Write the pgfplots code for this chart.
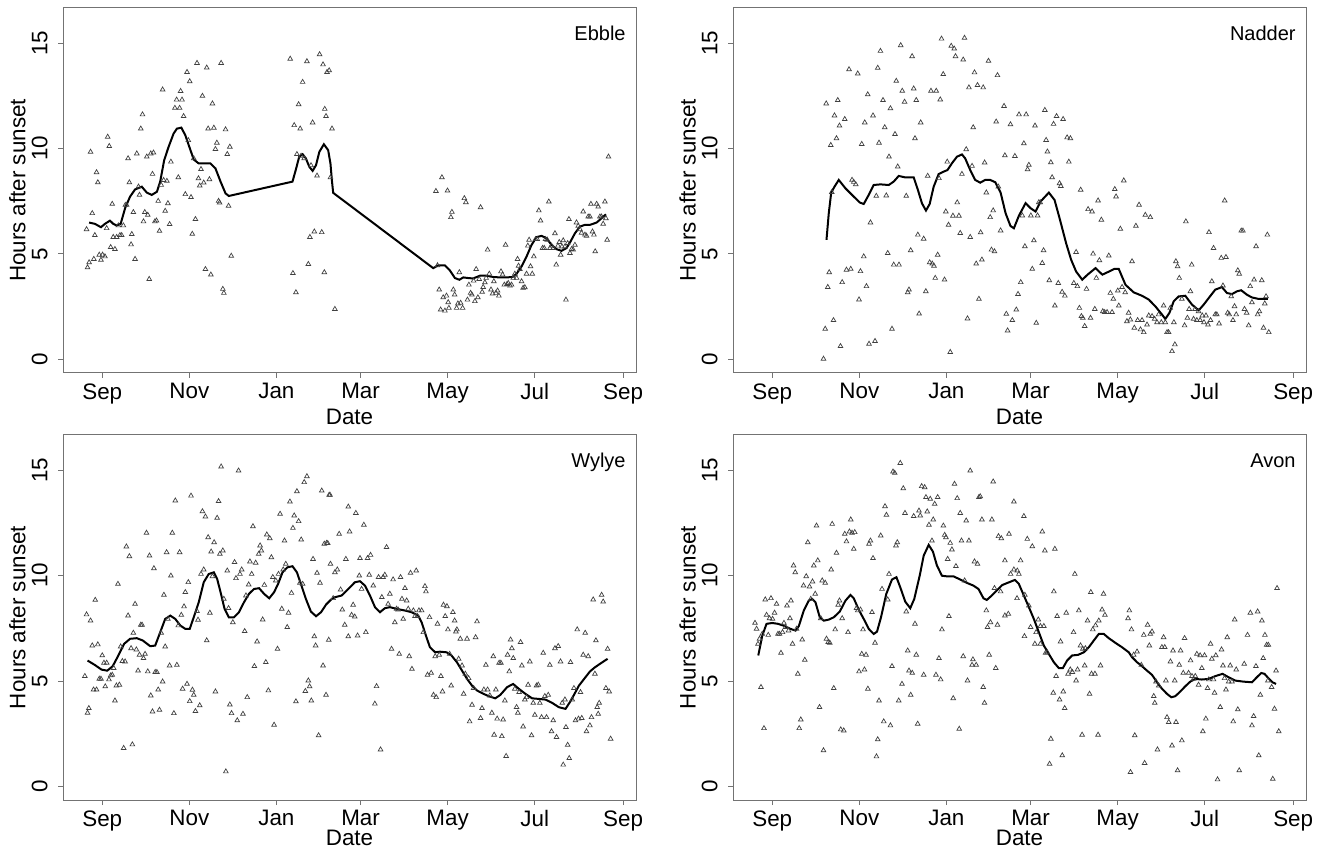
\documentclass[border=0pt]{standalone}
\usepackage{fontspec}
\setmainfont{Liberation Sans}
\usepackage{pgfplots}
\pgfplotsset{compat=1.18}
\pgfplotsset{
 panel/.style={
  scale only axis, width=286.5pt, height=182.5pt,
  xmin=-27.5, xmax=374, ymin=-0.64, ymax=16.66,
  xtick={0,61,122,181,242,303,365}, xticklabels={Sep,Nov,Jan,Mar,May,Jul,Sep},
  ytick={0,5,10,15}, yticklabels={0,5,10,15},
  tick align=outside, xtick pos=bottom, ytick pos=left,
  major tick length=2.5pt,
  axis line style={black!55, line width=0.5pt},
  every tick/.style={black!55, line width=0.5pt},
  tick label style={font=\fontsize{11.2}{13}\selectfont, black},
  xticklabel style={anchor=north, inner sep=0pt},
  yticklabel style={rotate=90, anchor=south, inner sep=0pt},
  xticklabel shift=2.5pt, yticklabel shift=5pt,
  /pgf/number format/assume math mode=true,
  label style={font=\fontsize{11.2}{13}\selectfont},
  xlabel={Date}, ylabel={Hours after sunset},
  xlabel style={at={(axis description cs:0.5,-0.12)}, anchor=center, inner sep=0pt},
  ylabel style={at={(axis description cs:-0.0794,0.5)}, anchor=center, inner sep=0pt},
 },
 lowpanel/.style={xlabel style={at={(axis description cs:0.5,-0.103)}}},
 pts/.style={only marks, mark=triangle, mark size=1.35pt, mark options={draw=black!75, line width=0.35pt, fill=none}},
 lin/.style={no marks, black, line width=1pt},
}
\newcommand{\paneltitle}[1]{\node[anchor=north east, inner sep=0pt, font=\fontsize{10}{12}\selectfont] at (rel axis cs:0.9825,0.951) {#1};}
\begin{document}
\begin{tikzpicture}
\useasboundingbox (0,0) rectangle (662.5pt,425pt);
% ---------------- Ebble ----------------
\begin{axis}[panel, at={(31.5pt,238.5pt)}, anchor=south west]
\addplot[pts] coordinates {
(-11,6.17)(-10.3,4.36)(-9.2,4.6)(-8.2,9.84)(-7,6.93)(-5.9,4.76)(-5.2,5.89)(-4,8.87)(-3.1,8.39)(-2.1,4.96)(-0.9,4.72)(0.2,4.96)(1.9,4.88)(3.1,6.22)(3.8,10.55)(4.9,10.11)(5.9,5.32)(7,7.37)(7.7,5.8)(8.9,5.23)(10.1,5.8)(11.3,6.35)(12.4,5.89)(13.6,5.89)(14.8,6.35)(16.2,7.32)(17.1,7.32)(18.1,9.53)(19,8.39)(20.2,5.45)(20.7,5.94)(21.8,6.98)(23,4.76)(24.2,9.76)(25.4,8.19)(26.1,7.8)(27,10.94)(28.2,11.61)(28.9,6.54)(29.8,6.98)(31.2,9.61)(31.9,6.85)(32.9,3.81)(34,9.76)(35.2,8.79)(35.9,9.8)(36.9,6.54)(38,6.58)(39.2,7.51)(40.1,6.09)(41.3,8.27)(42.3,12.79)(43,8.5)(44.1,7.04)(45.3,8.46)(46,7.4)(47.2,6.41)(48.1,9.37)(50.9,11.92)(52.1,12.31)(53.3,8.63)(54.2,11.92)(54.9,12.72)(55.9,12.31)(57,11.53)(58.2,7.83)(59.4,13.62)(60.3,10.39)(61.3,13.18)(62.2,7.69)(63.1,5.95)(64.1,9.53)(65.3,6.65)(66.4,14.05)(67.4,8.58)(68.3,8.24)(69.2,9.02)(70.2,12.49)(71.1,8.38)(72.3,4.28)(73.2,13.83)(74.2,10.94)(75.1,8.54)(76.1,4.02)(77.2,12.13)(78.2,10.98)(79.3,9.97)(80.3,10.27)(81.5,7.51)(82.2,7.43)(83.3,14.05)(84.5,3.34)(85.2,3.15)(86.4,10.9)(87.6,9.73)(88.5,7.28)(89.4,10.08)(90.4,4.91)
(131.7,14.25)(133.6,4.09)(134.5,11.1)(135.7,3.18)(136.4,9.73)(137.6,12.09)(138.7,10.94)(140.4,13.15)(141.5,9.53)(143.4,14.13)(144.4,4.52)(145.5,5.8)(147.4,11.23)(148.6,6.06)(150.5,8.71)(152.3,14.46)(153.8,6.03)(155.6,4.13)(154.7,13.98)(157.5,13.62)(156.8,11.53)(159,13.7)(155.9,11.87)(161,10.94)(163,2.39)(159.9,8.63)(139.3,9.65)(146.3,9.2)
(233.8,7.98)(234.9,4.46)(236.1,3.31)(237.1,2.36)(238,8.63)(238.9,2.94)(240.1,2.31)(241.2,3.02)(241.9,8)(242.4,2.71)(242.9,2.44)(244.3,6.74)(245,6.99)(246,3.31)(246.9,3.07)(248.3,2.44)(249.2,2.65)(250.2,4.13)(251.1,2.68)(252.5,2.44)(253.7,7.64)(254.8,7.45)(255.9,2.83)(256.9,3.54)(258.1,3.15)(259,3.07)(260.2,3.73)(261.1,2.76)(262,4.28)(263.2,2.94)(264.1,3.81)(265.1,7.21)(266.2,3.2)(266.9,3.43)(268.1,3.65)(269,3.86)(270,5.2)(271.2,4.06)(272.4,3.31)(273.5,3.12)(274.4,3.7)(275.8,3.15)(277,3.26)(277.9,3.02)(279.4,4.17)(280.5,4.02)(281.7,3.54)(282.6,5.43)(283.6,3.57)(284.5,3.62)(285.7,3.5)(286.8,3.54)(288,3.86)(289.1,4.06)(290.3,3.86)(291,4.76)(291.7,4.44)(292.6,4.28)(293.8,3.7)(294.9,3.39)(296.1,3.42)(297.3,4.06)(298.2,5.39)(299.1,5.67)(300.1,4.41)(301.3,4.06)(302.4,4.88)(303.6,5.7)(304.8,5.7)(305.9,7.06)(307.1,6.58)(308.5,5.28)(309.7,5.28)(310.6,5.7)(311.8,5.67)(312.9,7.48)(313.7,5.28)(314.8,5.39)(316,5.28)(317.2,5.98)(318.1,4.49)(319.3,5.39)(320.2,5.56)(321.2,4.96)(322.1,5.35)(323,5.64)(324.2,5.35)(324.9,2.83)(326.1,5.51)(327,6.65)(327.7,5.04)(328.9,5.23)(330,5.2)(331.2,5.43)(332.3,6.49)(333.5,6.33)(334.7,6.17)(335.8,6)(337,7.01)(338.2,5.91)(339.3,5.86)(340.5,6.77)(341.7,6.77)(342.4,7.37)(343.5,6.06)(344.5,5.91)(345.4,5.12)(346.4,7.37)(347.5,7.24)(348.7,6.77)(349.8,6.77)(351,6.43)(352.2,7.48)(352.9,6.69)(353.8,5.67)(354.7,9.61)
};
\addplot[lin] coordinates {
(-9.2,6.49)(-5.2,6.43)(-0.9,6.27)(1.9,6.43)(5.4,6.58)(7.7,6.43)(10.1,6.35)(12.9,6.43)(16,7.17)(19.5,7.72)(23,8.06)(27.7,8.19)(31.2,7.91)(34.7,7.8)(38.3,7.95)(40.6,8.43)(43.4,9.45)(46.5,10.08)(50,10.71)(52.3,10.94)(55.4,10.99)(58.2,10.63)(61,10.08)(64.1,9.48)(67.6,9.29)(71.1,9.29)(75.8,9.29)(79.3,9.06)(82.9,8.43)(86.4,7.87)(88.7,7.75)(133.3,8.43)(135.7,9.01)(138,9.61)(140.4,9.73)(142.7,9.53)(145.1,9.13)(147.4,8.94)(149.8,9.21)(152.1,9.84)(155.3,10.2)(158.3,9.92)(159.9,9.29)(160.9,8.5)(161.8,7.9)(231.9,4.33)(235.4,4.46)(240.1,4.46)(243.6,4.22)(247.1,3.86)(250.2,3.78)(253,3.89)(256.4,3.86)(259.9,3.84)(264.6,3.97)(269.2,3.97)(273.9,3.91)(278.6,3.89)(283.3,3.89)(287.5,3.91)(290.3,4.06)(293.8,4.41)(297.3,4.88)(300.8,5.43)(304.3,5.8)(307.8,5.86)(311.3,5.75)(314.8,5.43)(318.3,5.23)(321.8,5.15)(325.3,5.28)(328.1,5.59)(331.2,5.98)(334.7,6.3)(338.2,6.38)(341.7,6.38)(346.4,6.49)(349.8,6.69)(352.9,6.88)
};
\paneltitle{Ebble}
\end{axis}
% ---------------- Nadder ----------------
\begin{axis}[panel, at={(366.5pt,238.5pt)}, anchor=south west]
\addplot[pts] coordinates {
(35.9,0.03)(37.1,1.45)(37.8,12.13)(38.9,3.43)(39.9,4.13)(41,10.16)(41.7,7.93)(42.9,1.86)(43.6,11.56)(45,10.48)(45.9,12.29)(47.1,11.08)(47.8,0.63)(49,3.66)(50.8,11.39)(52,4.25)(53.8,13.75)(55,4.29)(55.9,8.51)(57.1,8.41)(58.5,8.3)(59.9,13.55)(60.8,2.84)(61.8,4.18)(62.7,10.21)(64.1,4.88)(64.8,11.23)(66,3.47)(66.9,12.56)(67.8,0.74)(68.8,6.49)(70.6,11.56)(72,0.87)(72.9,7.75)(73.9,13.82)(74.8,10.27)(75.8,14.62)(77.6,12.29)(78.8,11)(79.9,7.77)(80.9,5.04)(81.8,9.61)(82.8,11.9)(83.9,1.45)(85.1,4.49)(86,10.68)(86.9,13.2)(87.9,9.14)(88.8,4.49)(90,14.89)(91.1,12.73)(92.7,12.21)(93.9,7.75)(94.9,3.18)(95.8,3.31)(97,5.17)(98,14.37)(99.1,12.84)(100,10.48)(100.9,12.29)(102,5.91)(102.9,2.17)(104,11.23)(106.1,5.72)(107.6,3.23)(108.9,8.7)(110.3,4.6)(111.2,12.73)(112.1,4.54)(113.3,4.44)(114.2,3.86)(114.9,12.73)(115.9,4.96)(116.8,8.59)(117.7,12.32)(118.6,15.2)(119.8,13.52)(120.7,3.78)(121.6,7.01)(122.6,9.37)(123.5,6.38)(124.7,0.35)(125.4,14.86)(126.6,6.81)(127.5,14.73)(128.4,14.37)(129.6,7.44)(130.8,6.81)(131.7,5.99)(132.9,8.79)(133.8,14.21)(134.7,15.24)(135.9,9.96)(136.8,1.94)(137.8,12.89)(138.7,5.8)(140,9.17)(140.8,11)(141.7,13.6)(142.9,4.54)(143.8,13)(144.8,2.87)(146,6.02)(146.9,4.73)(147.8,12.89)(148.8,9.33)(150,7.91)(151.5,14.15)(152.7,6.74)(153.6,5.2)(154.8,7.06)(155.7,5.12)(156.9,11.27)(157.8,13.47)
(158.4,8.19)(160,6.11)(162.4,12.01)(163,9.67)(164,2.16)(164.9,1.37)(166.9,11.14)(168.2,1.86)(170,9.64)(171,2.36)(172.2,3.1)(172.9,11.61)(174.1,3.66)(175.2,6.82)(176.3,10.24)(177,5.36)(177.9,11.61)(178.9,9.01)(179.8,9.22)(181.2,6.82)(182.2,4.29)(183.3,5.64)(184.1,11.08)(185,1.73)(185.9,6.82)(186.8,7.45)(187.8,7.44)(189.2,4.57)(190.1,5.17)(191,11.82)(191.9,10.4)(192.8,9.85)(194.1,3.75)(195.2,9.34)(196.1,8.63)(197.1,11.16)(198,2.55)(199.2,11.53)(200.4,3.62)(201.3,8.35)(202.2,8.22)(203.1,3.2)(203.8,11.39)(205,3.02)(206.6,10.52)(207.8,9.37)(208.9,10.48)(211.3,3.62)(212.9,5.09)(213.8,3.47)(215.2,2.44)(216.1,8.04)(216.6,2.05)(217.6,1.97)(218.9,1.58)(220.2,3.34)(221.3,7.12)(223,1.97)(224.1,7.01)(224.8,5.01)(226,2.39)(227.1,3.86)(228.3,7.53)(229.2,4.7)(230.6,6.62)(231.6,2.28)(232.9,2.24)(234.6,2.24)(235.8,4.92)(236.9,3.15)(238.1,2.24)(239,2.87)(240,8.07)(240.9,7.72)(242.1,3.26)(242.8,2.55)(243.9,6.19)(245.1,3.43)(246.3,8.48)(247.3,3.18)(248.5,1.81)(249.7,2.21)(250.9,1.89)(252.1,4.65)(253.7,1.5)(254.8,6.33)(256,1.86)(257,7.33)(258,1.42)(259.1,1.86)(260.3,1.29)(261.4,6.85)(262.6,1.65)(263.8,2.08)(264.9,6.74)(266.1,2.05)(267.9,1.92)(269.6,1.76)(270.7,2.13)(272.6,1.76)(274.2,2.55)(275.4,1.76)(276.6,1.29)(277.7,1.29)(278.9,2.44)(280.1,0.39)(281.4,1.76)(282.1,0.71)(282.8,4.65)(284,4.41)(285.2,3.86)(287,2.87)(288.9,1.61)(289.8,6.54)(290.9,1.97)(292.1,2.39)(293,3.23)(293.9,4.49)(295.2,1.92)(296.3,2.39)(297.5,1.86)(298.7,2.28)(299.8,1.86)(301.3,2.08)(302.5,1.76)(303.9,2.08)(305.3,1.65)(306,6.03)(307.1,1.86)(308,3.7)(309.2,5.28)(310.4,2.13)(311.5,2.13)(313.1,1.7)(314.6,4.81)(315.8,3.5)(317,7.53)(317.9,4.85)(319.1,2.21)(320.2,2.13)(321.6,2.99)(322.8,1.86)(323.9,2.52)(325.1,2.13)(326.2,4.22)(327.2,4.06)(328.6,6.1)(329.8,6.1)(330.9,2.39)(332.4,2.21)(333.8,1.61)(334.9,3.47)(336.1,2.71)(337.6,3.78)(339,5.36)(340.1,2.13)(341.3,2.28)(343,3.75)(344.2,1.5)(345.1,2.65)(346,2.99)(346.9,5.91)(347.9,1.29)
};
\addplot[lin] coordinates {
(38,5.67)(39.6,6.93)(41.3,7.91)(43.6,8.19)(46.6,8.51)(51.3,8.11)(57.1,7.72)(61.3,7.44)(64.1,7.37)(67.6,7.8)(71.1,8.27)(75.8,8.3)(81.6,8.27)(85.1,8.43)(88.6,8.7)(93.2,8.63)(99.1,8.63)(101.9,8.07)(104.9,7.4)(107.7,7.06)(110.3,7.37)(113.1,8.19)(116.6,8.79)(120,8.9)(122.8,8.98)(125.9,9.3)(129.4,9.61)(132.9,9.72)(135.2,9.53)(138.7,8.98)(142.2,8.51)(145.7,8.38)(149.2,8.51)(152.7,8.51)(156.3,8.4)(160,7.91)(163.5,6.93)(166.9,6.33)(169.3,6.22)(172.8,6.81)(177.5,7.41)(181,7.17)(184.5,7.01)(187.9,7.48)(193.8,7.91)(197.8,7.56)(201.3,6.7)(205.9,5.51)(209.4,4.73)(212.9,4.17)(217.2,3.78)(220.9,4.02)(226.5,4.33)(231.3,4.02)(236,4.17)(239.5,4.29)(242.8,4.29)(247.5,3.54)(253.3,3.18)(259.1,3.02)(263.8,2.84)(268.4,2.52)(273.1,2.13)(275.4,1.92)(278.3,2.21)(281.3,2.76)(284.8,2.99)(289.4,3.02)(294.1,2.6)(298.8,2.33)(302.3,2.6)(305.8,2.91)(310.4,3.31)(315.1,3.43)(318.6,3.15)(322.1,3.1)(325.6,3.23)(328.6,3.28)(332.6,3.07)(336.1,2.94)(340.8,2.87)(347.2,2.87)
};
\paneltitle{Nadder}
\end{axis}
% ---------------- Wylye ----------------
\begin{axis}[panel, lowpanel, at={(31.5pt,25pt)}, anchor=south west]
\addplot[pts] coordinates {
(-12.2,5.23)(-11,8.15)(-10.3,3.49)(-9.4,3.71)(-8.2,7.86)(-7,6.68)(-6.1,4.59)(-4.9,8.84)(-4,4.59)(-3.1,6.73)(-2.1,5.1)(-0.9,5.1)(0,6.21)(1.2,5.86)(2.1,4.74)(3.1,5.86)(4.7,5.07)(5.9,5.26)(7,5.29)(8,5.61)(8.9,4.07)(9.9,4.78)(11,9.6)(12,4.82)(12.9,6.63)(14.1,5.94)(15,1.82)(16,5.92)(16.9,11.37)(18.1,8.1)(19,10.91)(20.2,6.55)(21.1,1.99)(21.8,7.28)(23,8.65)(23.9,6.49)(25.1,5.49)(26.1,6.24)(27,7.66)(27.9,7.66)(28.9,6.08)(30,6.28)(31,12.02)(31.9,5.45)(33.1,10.94)(34,4.31)(35.2,3.55)(36.2,10.34)(37.1,5.42)(38.3,5.42)(39.2,4.59)(40.1,3.63)(41.3,7.28)(42.3,4.97)(43.2,9.08)(44.1,6.63)(45.1,11.1)(46,7.94)(47.2,5.73)(48.1,9.99)(49.1,12.02)(50.2,3.47)(51.2,13.55)(52.3,5.76)(53.3,7.63)(54.2,11.1)(55.4,8.13)(56.3,4.63)(57.3,8.53)(58.2,9.21)(59.4,4.86)(60.3,9.68)(61.3,4.04)(62.2,13.78)(63.2,4.58)(64.1,4.34)(65.3,3.57)(66.4,8.31)(67.1,7.9)(68.3,3.84)(69.2,10.07)(70.2,13.04)(71.1,10.28)(72.3,12.79)(73.2,6.92)(74.2,11.81)(75.4,8.23)(76.3,11.13)(77.2,9.96)(78.4,11.57)(79.3,4.5)(80.5,12.73)(81.5,13.52)(82.4,11.02)(83.3,15.16)(84.5,11.18)(85.2,8.89)(86.6,0.71)(87.6,10.23)(88.5,8.45)(89.4,3.88)(90.6,3.47)(91.5,7.78)(92.7,10.63)(93.7,9.87)(94.6,3.13)(95.5,14.97)(96.5,10.07)(97.7,10.28)(98.6,3.44)(99.8,7.36)(100.7,9.05)(101.6,4.23)(102.6,9.57)(103.5,10.66)(104.7,10.07)(105.6,12.33)(106.6,5.7)(107.5,10.6)(108.5,6.87)(109.6,11.02)(110.6,11.42)(111.5,11.18)(112.4,7.91)(113.6,9.55)(114.6,5.89)(115.3,11.94)(116.4,4.55)(117.4,11.76)(118.5,10.86)(119.5,9.92)(120.4,2.92)(121.6,9.76)(122.8,6.52)(123.5,10.07)(124.6,12.92)(125.8,8.42)(126.8,10.28)(127.7,11.65)(128.6,10.55)(129.6,7.55)(130.5,8.23)(131.5,13.5)(132.6,9.17)(133.6,12.25)(134.5,12.84)(135.7,4.03)(136.4,13.99)(137.6,12.57)(138.5,9.65)(139.4,11.7)(140.4,9.6)(141.5,14.42)(142.3,4.52)(143.4,14.7)(144.4,5.02)(145.3,4.74)(146.5,4.07)(147.7,10.78)(148.6,7.11)(149.5,6.68)(150.5,10.12)(151.6,2.42)(152.6,9.65)(153.8,14.02)(154.7,5.73)(155.6,11.5)(156.8,4.34)(158,11.53)(158.7,6.95)(159.6,13.82)
(159,13.82)(157.2,11.54)(159.9,10.55)(163,10.15)(164.7,10.28)(161.8,8.92)(167,9.33)(166,11.97)(168.2,8.38)(169.9,7.66)(170.7,10.78)(172.4,13.26)(172.4,7.11)(173.3,12.08)(174.7,8.13)(175.8,8.61)(176.9,8.05)(177.7,12.96)(178.9,7.15)(180.1,9.99)(180.6,10.82)(181.7,9.36)(183.3,12.4)(184.7,7.31)(185.9,10.82)(187.1,10.03)(188,10.97)(189.9,9.52)(191,3.92)(192.2,4.75)(193.6,9.92)(195,1.75)(195.9,8.97)(196.8,9.92)(198,10.03)(199.2,11.34)(200.3,8.65)(201.5,9.13)(202.7,6.52)(203.8,9.81)(205,7.78)(206.2,8.42)(207.3,8.38)(208.1,6.28)(209,9.92)(210,8.89)(210.9,7.94)(212.1,9.4)(213.3,8.81)(214.4,8.42)(215.1,6.17)(216,10.12)(217,5.57)(218,8.34)(219.1,8.07)(220,10.23)(220.8,8.07)(221.9,8.34)(223.8,8.34)(225,7.31)(226.1,9.49)(226.8,9.24)(227.9,5.29)(229.3,8.02)(230.5,5.38)(232.1,4.34)(233.3,6.17)(234,4.23)(234.9,7.71)(236.1,6.24)(237.3,5.23)(238.4,4.5)(239.1,8.61)(240.3,8.07)(241.5,8.54)(242.2,7.44)(243.4,6.28)(244.5,4.78)(245.7,8.26)(246.9,7.86)(247.8,7.34)(248.5,7.44)(249.7,6.05)(250.9,7)(252.1,5.73)(253.2,4.39)(254.4,5.34)(255.6,7)(256.7,5.13)(257.4,3.08)(259.1,3.87)(260.2,4.66)(261.6,7.07)(262.6,7.82)(265.1,3.24)(266.1,3.71)(267.4,4.59)(268.8,5.76)(270,4.59)(271.6,4.31)(273,3.49)(274,6.17)(274.6,2.45)(275.8,4.59)(276.7,3.21)(278.1,5.86)(279.3,5.86)(280,2.38)(280.9,3.17)(282.1,4.07)(283,1.44)(284,6.24)(285.2,5.45)(286.1,6.96)(287,6.55)(288,6.08)(289.1,4.63)(290.3,3.76)(291.2,3.49)(292.1,4.47)(293.1,6.84)(294,5.73)(294.9,2.84)(296.1,4.12)(297.3,4.23)(298.4,4.82)(299.6,5.92)(300.8,2.42)(302,3.96)(303.1,3.39)(304.3,4.78)(305.5,4.82)(306.6,3.96)(307.8,3.28)(309,6.33)(310.1,4.28)(311.3,3.28)(312.5,4.34)(313.6,5.76)(314.8,2.61)(316,3.13)(317.2,6.55)(318.3,2.34)(319.5,6.65)(321.1,5.92)(322.3,3.96)(323,1.03)(324.2,4.12)(324.9,2.81)(326.1,1.97)(327.2,1.34)(328.1,5.89)(329.3,4.12)(330.5,4.66)(331.6,3.13)(332.8,7.44)(333.7,3.21)(335.1,4.47)(336,3.24)(337,6.24)(338.4,7.28)(339.3,2.61)(340.5,6.17)(341.7,2.89)(342.8,3.28)(344,8.86)(345.2,5.34)(345.9,6.92)(346.8,3.76)(347.5,3.44)(348.2,3.96)(349.9,9.08)(351,8.76)(352.9,4.66)(354.1,6.52)(355.2,4.5)(356.2,2.26)
};
\addplot[lin] coordinates {
(-10.3,5.97)(-5.2,5.76)(-0.5,5.54)(3.5,5.49)(7.3,5.7)(11.3,6.21)(15.3,6.76)(19.5,7)(24.2,7.03)(28.4,6.92)(33.6,6.65)(37.1,6.68)(40.6,7.31)(44.1,7.94)(47.7,8.1)(51.2,7.94)(54.7,7.63)(58.2,7.47)(61.3,7.47)(64.1,8.02)(67.6,8.73)(71.1,9.68)(74.6,10.07)(78.2,10.15)(80.5,9.84)(82.9,9.21)(85.7,8.42)(88.7,8.02)(92.3,8.02)(95.8,8.26)(99.3,8.73)(102.8,9.13)(106.3,9.36)(109.9,9.4)(113.4,9.13)(117,8.92)(120.4,9.21)(123.2,9.6)(126.3,10.15)(129.8,10.39)(133.3,10.44)(136.4,10.15)(139.2,9.6)(142.7,8.89)(146.2,8.29)(149.8,8.07)(153.3,8.26)(156.8,8.62)(160.3,8.86)(163,8.97)(167.7,9.05)(172.4,9.36)(177,9.68)(180.6,9.73)(184.1,9.52)(187.6,9.05)(191.1,8.5)(194.6,8.26)(198,8.45)(201.5,8.5)(206.2,8.42)(212.1,8.34)(216.7,8.26)(221.4,8.1)(223.8,7.78)(226.8,7.15)(229.6,6.6)(233.3,6.36)(236.6,6.39)(241.3,6.36)(244.7,6.21)(248.5,5.89)(252.1,5.49)(255.6,5.1)(259.1,4.78)(262.6,4.55)(267.2,4.39)(270.8,4.28)(275.4,4.18)(278.9,4.34)(283.7,4.71)(287.9,4.86)(291.9,4.63)(296.5,4.39)(301.2,4.18)(305.9,4.15)(310.6,4.12)(315.3,3.96)(319.9,3.76)(324.6,3.68)(327.7,4)(330.5,4.34)(334,4.78)(338,5.13)(341.7,5.45)(345.2,5.65)(348.7,5.81)(352.2,5.97)(354.1,6.05)
};
\paneltitle{Wylye}
\end{axis}
% ---------------- Avon ----------------
\begin{axis}[panel, lowpanel, at={(366.5pt,25pt)}, anchor=south west]
\addplot[pts] coordinates {
(-12.1,7.75)(-11,7.47)(-10,6.76)(-8.9,7)(-7.9,4.71)(-7,7.23)(-5.8,2.76)(-4.9,8.86)(-4,8.13)(-2.8,7.18)(-1.9,7.97)(-0.9,8.92)(0.2,7.94)(1.6,8.23)(3,8.65)(4,7.23)(5.1,7.23)(6.1,6.33)(7.2,7.31)(8.2,7.75)(9.3,7.55)(10.3,8.57)(11.4,7.39)(12.4,7.97)(13.1,8.81)(14.2,6.76)(14.9,10.47)(16.1,10.15)(17,7.47)(17.9,5.34)(18.9,2.76)(20,3.17)(21,6.96)(21.9,9.52)(22.8,6)(23.8,9.96)(24.9,11.57)(26.1,9.47)(27,8.89)(28.2,9.71)(29.1,10.47)(30.1,9.13)(31,12.36)(31.9,10.71)(33.1,3.76)(34,7.97)(35,9.76)(35.9,1.71)(37.1,9.65)(38,7)(39.2,6.84)(40.3,6.81)(41.3,10.28)(42,12.44)(43.1,4.66)(44.1,7.44)(45,11.07)(46.2,8.61)(47.1,8.81)(48,2.7)(49,7.97)(50.1,2.65)(50.8,11.97)(52,11.61)(53.1,7.31)(54.1,12.08)(55,12.65)(55.9,12.02)(57.1,11.26)(57.8,12.05)(59,8.45)(59.9,8.34)(60.8,5.45)(61.8,8.38)(62.7,6.28)(63.6,7.44)(64.6,5.54)(65.7,6.24)(67,4.63)(67.8,11.5)(68.8,11.65)(69.9,8.26)(70.6,10.82)(72,6.81)(73,1.42)(73.9,2.23)(74.8,4.07)(76,11.89)(76.9,9.36)(78.1,3.08)(79,13.28)(80,12.87)(80.9,8.86)(81.8,10.07)(82.8,2.89)(83.9,5.7)(84.6,14.92)(85.8,14.86)(86.7,11.42)(87.6,11.57)(88.6,4.07)(89.7,15.33)(90.9,4.86)(91.8,14.13)(93,12.96)(93.9,8.29)(94.9,6.44)(95.8,5.49)(97,4.34)(98.1,5.38)(99.1,12.81)(100,7.71)(100.9,6.24)(101.9,2.97)(102.8,13.07)(103.7,12.84)(104.7,14.23)(106.1,5.29)(106.8,14.18)(107.7,13.71)(108.6,13.03)(109.8,12.4)(110.7,13.63)(111.9,11.65)(112.8,12.65)(113.8,13.39)(114.7,5.29)(115.9,13.71)(116.8,6.08)(118,5.07)(118.9,7.44)(119.9,12.36)(120.8,11.92)(121.7,11.81)(122.9,10.78)(123.8,8.07)(124.7,11.54)(125.9,11.23)(126.8,4.18)(127.7,14.34)(128.7,10.44)(129.6,13.66)(131,2.73)(131.7,12.96)(132.6,11.65)(133.8,6.17)(134.8,9.76)(135.9,12.6)(136.8,5.02)(137.8,11.65)(138.7,14.97)(140,5.76)(140.6,6.02)(141.7,10.66)(142.9,5.76)(143.8,10.55)(144.8,13.71)(145.7,13.75)(146.9,12.65)(147.8,4.71)(148.7,3.96)(150,8.34)(150.8,7.55)(152,6.24)(152.9,7.78)(153.9,12.65)(154.8,14.45)(155.7,9.4)(156.6,5.61)(157.8,7.66)(158.5,11.86)
(160.5,11.76)(163,10.71)(165.9,11.97)(169.3,13.5)(176.3,12.81)(178.7,11.73)(182.2,11.38)(167,10.07)(169.3,10.28)(171.7,10.23)(174,10.71)(172.8,10.07)(160,9.24)(171.5,8.92)(177,9.08)(179.8,8.57)(163,8.1)(165.4,8.18)(176.7,7.12)(181,7.55)(184.9,7.31)(186.4,7.91)(187.9,7.6)(184,6.76)(187.9,6.76)(190.3,7.6)(189.2,12.08)(191,11.18)(191.5,6.33)(192.7,6.36)(198,11.26)(197.3,9.24)(199.6,8.07)(202,6.87)(206,8.23)(211.1,7.31)(212,10.07)(214.8,8.34)(198.9,5.23)(196.9,4.44)(203.9,4.5)(201.3,4.12)(204.9,3.71)(195.2,2.26)(194.3,1.07)(203.2,1.47)(207.3,5.34)(208.8,5.54)(210.3,5.42)(212.9,5.02)(213.9,5.54)(216,6.68)(217.6,6.52)(219.4,6.55)(218.9,5.73)(217.1,2.45)(220.9,7.86)(222.3,4.39)(223.2,9.21)(224.6,7.44)(226.5,7.63)(223.7,5.34)(226.1,5.34)(228.3,2.45)(228.8,7.86)(230,5.73)(231.1,8.38)(232.1,9.13)(233.1,8.13)(249.3,7.97)(250.2,8.34)(251.7,7.44)(251,0.68)(254,2.42)(255.6,6.39)(253.2,6.24)(258.6,5.76)(260.3,7.18)(260.9,1.11)(263,7.66)(264.2,6.68)(264.9,7.23)(266.1,7.34)(267.3,4.28)(268,3.96)(268.9,4.97)(269.9,1.75)(270.8,4.78)(273,6.6)(274.2,7.07)(275,6.6)(275.8,5.02)(276.6,3.28)(277.8,3.05)(279,5.92)(280.1,1.94)(280.8,6.44)(282,5.02)(282.9,3.05)(284,0.76)(285.2,5.76)(286.1,6.44)(287,2.18)(288,5.38)(288.9,7.03)(291.7,5.38)(293.1,5.97)(294.1,5.23)(295.2,5.1)(296.4,5.23)(297.5,6.28)(298.7,4.82)(299.8,6.21)(301,5.61)(301.7,2.61)(302.9,6.21)(303.8,3.21)(305,4.66)(305.9,5.07)(307.1,6.76)(308,6.05)(309.2,5.07)(309.9,4.44)(310.8,6.21)(312,0.33)(313.9,3.76)(314.8,6.49)(315.8,5.73)(316.9,5.13)(317.9,4.59)(318.8,7.07)(319.8,4.97)(320.9,5.73)(322.1,4.97)(323,3.08)(324,7.91)(325.1,5.54)(326.2,3.65)(327.2,0.76)(330.7,5.81)(333,7.18)(335,8.23)(336.1,2.89)(337.3,3.33)(338.9,5.7)(340.1,8.29)(340.9,1.47)(342,4.34)(343.1,7.86)(344,6.08)(345.2,7.18)(346.4,6.71)(347.3,5.02)(347.6,6.71)(349.9,4.71)(350.7,0.36)(351.9,3.68)(353,5.49)(353.7,9.4)(354.9,2.61)
};
\addplot[lin] coordinates {
(-9.8,6.21)(-7,7.15)(-4,7.71)(0,7.75)(4,7.71)(7.7,7.63)(12.8,7.47)(16.3,7.39)(18.6,7.6)(22.1,8.34)(25.6,8.81)(28,8.89)(30.3,8.73)(33.3,8.02)(36.1,7.86)(39.6,7.91)(43.1,8.02)(47.3,8.29)(51.3,8.81)(54.8,9.08)(57.1,8.92)(60.6,8.38)(64.1,7.94)(67.6,7.47)(71.1,7.23)(73.4,7.34)(76.2,8.02)(79.9,9.13)(83.9,9.81)(87,9.92)(89.7,9.44)(93.2,8.76)(96.7,8.45)(99.5,8.89)(103.3,9.99)(106.1,10.94)(109.6,11.45)(112.6,11.13)(115.4,10.47)(118.9,9.99)(122.4,9.96)(127,9.96)(131.7,9.81)(136.4,9.65)(141,9.52)(144.5,9.36)(148,8.92)(150.3,8.84)(153.8,9.05)(157.3,9.29)(161.2,9.55)(165.9,9.68)(170,9.79)(172.8,9.6)(176.3,9.05)(179.8,8.5)(183.3,7.94)(186.8,7.31)(190.3,6.68)(193.8,6.28)(197.3,5.89)(200.8,5.61)(203.6,5.61)(206.6,5.97)(210.1,6.21)(214.3,6.24)(218.3,6.36)(221.8,6.6)(225.3,6.92)(228.8,7.23)(232.3,7.23)(235.8,7.03)(240.4,6.81)(245.1,6.6)(249.8,6.36)(252.1,6.13)(255.6,5.89)(259.1,5.7)(262.6,5.49)(266.1,5.29)(269.6,4.94)(273.1,4.63)(276.6,4.39)(279.6,4.23)(282.4,4.28)(285.9,4.5)(289.4,4.75)(292.9,4.97)(296.4,5.1)(301,5.07)(305.7,5.1)(310.4,5.23)(315.5,5.34)(319.7,5.18)(324.4,5.02)(330.2,4.97)(336.1,4.94)(339.6,5.18)(342.6,5.38)(344.9,5.34)(347.7,5.13)(350.5,4.94)(353,4.86)
};
\paneltitle{Avon}
\end{axis}
\end{tikzpicture}
\end{document}
